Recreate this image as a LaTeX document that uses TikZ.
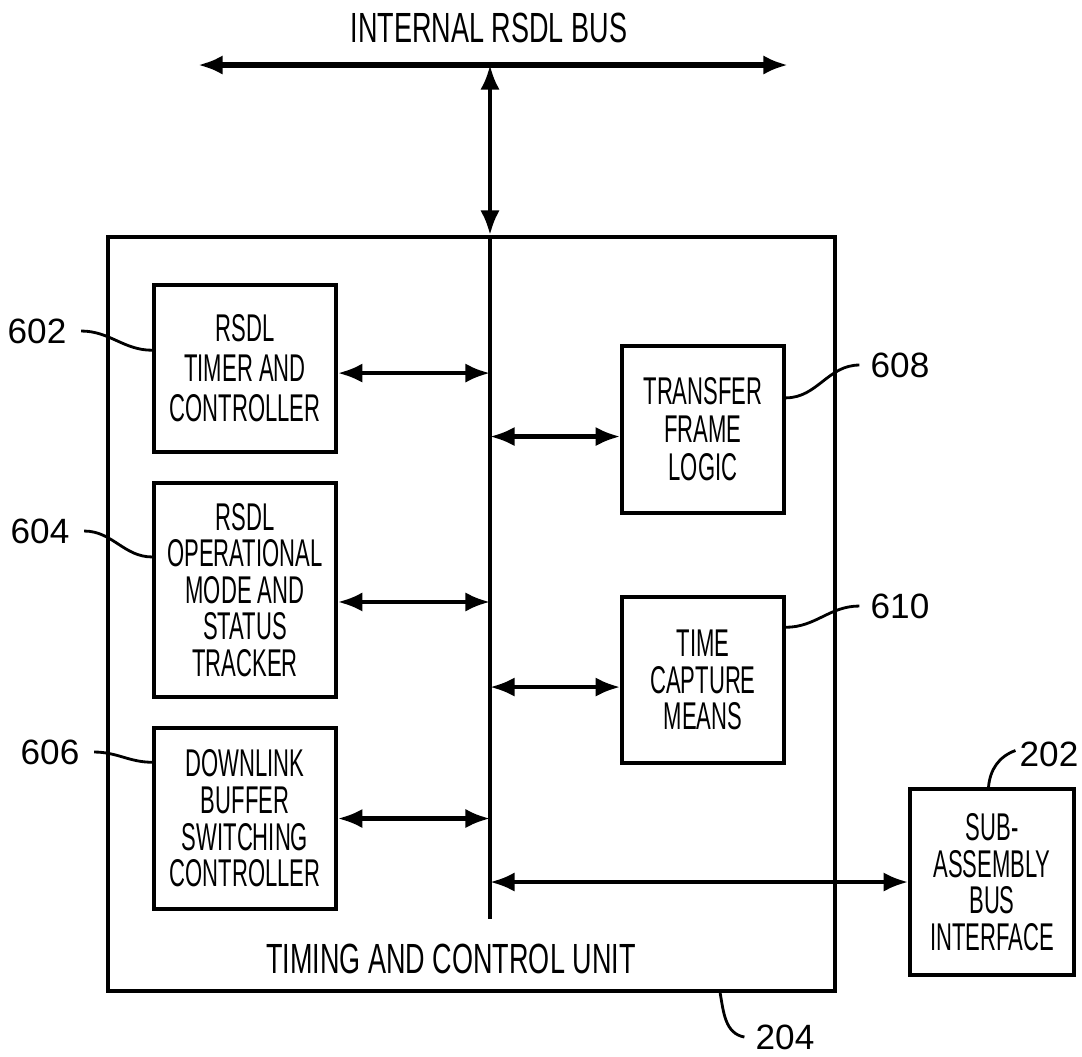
\documentclass[tikz,border=0pt]{standalone}
\usepackage{fontspec}
\setmainfont{Liberation Sans}[FakeStretch=0.57]
\newfontfamily\widefont{Liberation Sans}[FakeStretch=0.64]
\newfontfamily\numfont{Liberation Sans}
\usetikzlibrary{arrows.meta,positioning,calc}

\begin{document}
\begin{tikzpicture}[x=0.01cm,y=-0.01cm,
  blk/.style={draw,line width=1pt,align=center,inner sep=0pt,
              font=\fontsize{11}{10.4}\selectfont},
  biarr/.style={{Latex[length=7pt,width=5.5pt]}-{Latex[length=7pt,width=5.5pt]},line width=1.2pt},
  lead/.style={line width=0.8pt},
  refnum/.style={font=\numfont\fontsize{10}{10}\selectfont,inner sep=0pt}]
\useasboundingbox (0,0) rectangle (1082,1056);

% bus at the top
\node[font=\widefont\fontsize{12}{12}\selectfont] (title) at (489,28) {INTERNAL RSDL BUS};
\coordinate (busL) at (198,65);
\coordinate (busR) at (788,65);
\coordinate (busT) at (490,65);
\draw[biarr,line width=1.5pt] (busL) -- (busR);

% timing and control unit
\node[draw,line width=1pt,minimum width=7.27cm,minimum height=7.54cm,inner sep=0pt] (tcu) at (471.5,614) {};
\node[font=\widefont\fontsize{12}{12}\selectfont] (tculab) at (451,959) {TIMING AND CONTROL UNIT};
\coordinate (ibusB) at (490,919);
\draw[biarr] (busT) -- (tcu.north -| busT);
\draw[line width=1pt] (tcu.north -| busT) -- (ibusB);

\node[blk,minimum width=1.82cm,minimum height=1.67cm,font=\fontsize{11}{11.4}\selectfont] (b602) at (245,368.5)
  {RSDL\\TIMER AND\\CONTROLLER};
\node[blk,minimum width=1.82cm,minimum height=2.14cm] (b604) at (245,590)
  {RSDL\\OPERATIONAL\\MODE AND\\STATUS\\TRACKER};
\node[blk,minimum width=1.82cm,minimum height=1.81cm] (b606) at (245,818.5)
  {DOWNLINK\\BUFFER\\SWITCHING\\CONTROLLER};
\node[blk,minimum width=1.62cm,minimum height=1.67cm,font=\fontsize{11}{10.8}\selectfont] (b608) at (703,429.5)
  {TRANSFER\\FRAME\\LOGIC};
\node[blk,minimum width=1.62cm,minimum height=1.66cm] (b610) at (703,680)
  {TIME\\CAPTURE\\MEANS};
\node[blk,minimum width=1.64cm,minimum height=1.86cm] (b202) at (992,882)
  {SUB-\\ASSEMBLY\\BUS\\INTERFACE};

% connections to the inner bus
\foreach \b/\s in {b602/-1.3pt,b604/-3.4pt,b606/0pt}
  \draw[biarr] ([yshift=\s]\b.east) -- ([yshift=\s]\b.east -| ibusB);
\foreach \b/\s in {b608/-2pt,b610/-2pt}
  \draw[biarr] ([yshift=\s]\b.west -| ibusB) -- ([yshift=\s]\b.west);
\draw[biarr] (b202.west -| ibusB) -- (b202.west);

% reference numerals
\node[refnum] (n602) at (37,331) {602};
\node[refnum] (n604) at (40,531) {604};
\node[refnum] (n606) at (50,752) {606};
\node[refnum] (n608) at (900,365) {608};
\node[refnum] (n610) at (900,606) {610};
\node[refnum] (n202) at (1049,754) {202};
\node[refnum] (n204) at (785,1037) {204};
\draw[lead] ([xshift=4pt]n602.east) to[out=0,in=180] ([yshift=5.2pt]b602.west);
\draw[lead] ([xshift=4pt]n604.east) to[out=0,in=180] ([yshift=9.4pt]b604.west);
\draw[lead] ([xshift=4pt]n606.east) to[out=0,in=180] ([yshift=16pt]b606.west);
\draw[lead] ([yshift=9pt]b608.east) to[out=0,in=180] ([xshift=-3pt]n608.west);
\draw[lead] ([yshift=15pt]b610.east) to[out=0,in=180] ([xshift=-3pt]n610.west);
\draw[lead] ([xshift=-1pt]b202.north) to[out=85,in=200] ([xshift=-1pt,yshift=1pt]n202.west);
\draw[lead] ([xshift=2.485cm]tcu.south) to[out=-80,in=170] ([xshift=-3pt]n204.west);
\end{tikzpicture}
\end{document}
